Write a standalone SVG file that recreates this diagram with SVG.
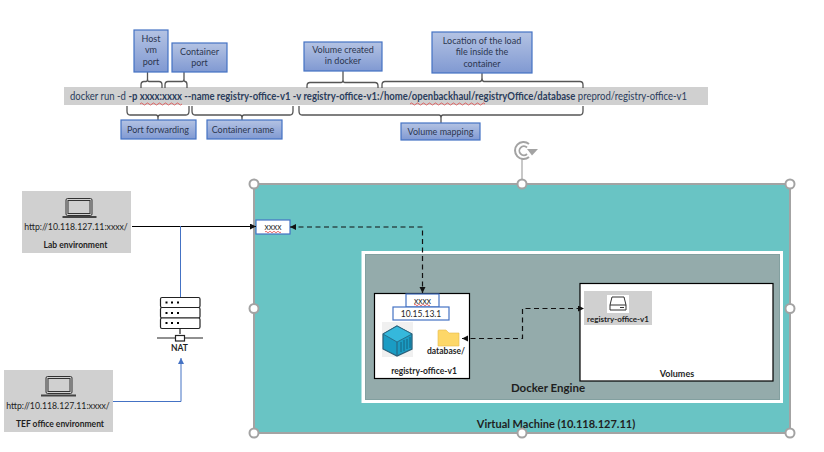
<svg xmlns="http://www.w3.org/2000/svg" width="824" height="452" viewBox="0 0 824 452">
<defs>
<linearGradient id="blueGrad" x1="0" y1="0" x2="0" y2="1"><stop offset="0" stop-color="#b4c3e3"/><stop offset="1" stop-color="#8099d2"/></linearGradient>
<marker id="ah" markerWidth="7" markerHeight="7" refX="6" refY="3" orient="auto-start-reverse" markerUnits="userSpaceOnUse"><path d="M0 0L6 3L0 6Z" fill="#111"/></marker>
<marker id="ahb" markerWidth="7" markerHeight="7" refX="6" refY="3" orient="auto" markerUnits="userSpaceOnUse"><path d="M0 0L6 3L0 6Z" fill="#4472c4"/></marker>
</defs>
<style>
text{font-family:Lato,"Liberation Sans",sans-serif;text-anchor:middle;fill:#1f1f1f}
.call{fill:url(#blueGrad);stroke:#4472c4;stroke-width:1.2}
.ct{font-size:9px;fill:#2c3650}
.brace{fill:none;stroke:#555;stroke-width:1.3}
.grey{fill:#d0d0d0}
.cmd{font-size:10.500px;fill:#2b3d5c;text-anchor:start}
.b{font-weight:700}
.small{font-size:8.500px;font-weight:700}
.url{font-size:8.700px;fill:#222}
.handle{fill:#fff;stroke:#a3a3a3;stroke-width:2}
.dash{fill:none;stroke:#111;stroke-width:1.2;stroke-dasharray:5 3.500}
.sq{fill:none;stroke:#e03030;stroke-width:.7}
.port{fill:#fff;stroke:#4472c4;stroke-width:1.2}
.ico{fill:none;stroke:#333;stroke-width:1}
.srv{fill:#fff;stroke:#222;stroke-width:1.2}
.lap{fill:none;stroke:#333;stroke-width:1}
</style>

<g id="command">
<rect class="grey" x="64" y="87" width="644" height="18"/>
<text class="cmd" x="70" y="100" textLength="617" lengthAdjust="spacingAndGlyphs">docker run -d <tspan class="b">-p xxxx:xxxx --name registry-office-v1 -v registry-office-v1:/home/openbackhaul/registryOffice/database</tspan> preprod/registry-office-v1</text>
<path class="sq" d="M140 104q1.500-2 3 0t3 0t3 0t3 0t3 0t3 0t3 0t3 0t3 0t3 0t3 0t3 0t3 0t3 0"/>
<path class="sq" d="M410 104q1.500-2 3 0t3 0t3 0t3 0t3 0t3 0t3 0t3 0t3 0t3 0t3 0t3 0t3 0t3 0t3 0t3 0t3 0t3 0t3 0t3 0t3 0t3 0t3 0t3 0t3 0"/>
</g>

<g id="braces">
<path class="brace" d="M141 88V85Q141 81.500 144 81.500H146Q147.500 81.500 147.500 79V72M147.500 79Q147.500 81.500 149 81.500H159Q162 81.500 162 85V88"/>
<path class="brace" d="M165 88V85Q165 81.500 168 81.500H182Q184 81.500 184 79V72M184 79Q184 81.500 185 81.500Q187 81.500 187 85V88"/>
<path class="brace" d="M307 88V86Q307 82.500 310 82.500H341Q343 82.500 343 80V71M343 80Q343 82.500 345 82.500H375Q378 82.500 378 86V88"/>
<path class="brace" d="M382 88V85Q382 81.500 385 81.500H480Q482 81.500 482 78V73M482 78Q482 81.500 484 81.500H580Q583 81.500 583 85V88"/>
<path class="brace" d="M127 106V111Q127 115 130 115H156Q158 115 158 118V120M158 118Q158 115 160 115H186Q189 115 189 111V106"/>
<path class="brace" d="M192 106V111Q192 115 195 115H240Q242 115 242 118V120M242 118Q242 115 244 115H290Q293 115 293 111V106"/>
<path class="brace" d="M299 106V111Q299 115 302 115H439Q441 115 441 118V123M441 118Q441 115 443 115H580Q583 115 583 111V106"/>
</g>

<g id="host-port"><rect class="call" x="134" y="30" width="34" height="42"/><text class="ct" x="151" y="42">Host</text><text class="ct" x="151" y="53">vm</text><text class="ct" x="151" y="65">port</text></g>
<g id="container-port"><rect class="call" x="172" y="43" width="55" height="29"/><text class="ct" x="199.500" y="55">Container</text><text class="ct" x="199.500" y="66">port</text></g>
<g id="volume-created"><rect class="call" x="304" y="42" width="78" height="29"/><text class="ct" x="343" y="53">Volume created</text><text class="ct" x="343" y="64">in docker</text></g>
<g id="load-location"><rect class="call" x="432" y="32" width="100" height="41"/><text class="ct" x="482" y="44">Location of the load</text><text class="ct" x="482" y="55">file inside the</text><text class="ct" x="482" y="67">container</text></g>
<g id="port-forwarding"><rect class="call" x="121" y="120" width="75" height="19"/><text class="ct" x="158" y="133">Port forwarding</text></g>
<g id="container-name"><rect class="call" x="207" y="120" width="75" height="19"/><text class="ct" x="243" y="133">Container name</text></g>
<g id="volume-mapping"><rect class="call" x="401" y="123" width="79" height="17"/><text class="ct" x="440.500" y="135">Volume mapping</text></g>

<g id="virtual-machine">
<rect x="254" y="184" width="536" height="249" fill="#69c4c4" stroke="#a3a3a3" stroke-width="2"/>
<text x="556" y="428" font-size="11" font-weight="700">Virtual Machine (10.118.127.11)</text>
</g>

<g id="docker-engine">
<rect x="361.500" y="251" width="421.500" height="152" fill="#fff"/>
<rect x="365" y="254" width="415" height="146" fill="#94abab"/>
<rect x="365.500" y="254.500" width="414" height="145" fill="none" stroke="#83a0a0" stroke-width="1"/>
<text x="548" y="392" font-size="11.500" font-weight="700" fill="#222">Docker Engine</text>
</g>

<g id="vm-port"><rect class="port" x="256" y="220" width="34" height="14"/><text x="273" y="230" font-size="8.500">xxxx</text><path class="sq" d="M265 232q1-1.500 2 0t2 0t2 0t2 0t2 0t2 0t2 0t2 0"/></g>

<g id="container">
<rect x="374.500" y="293.500" width="95" height="85" fill="#fff" stroke="#000" stroke-width="1.200"/>
<rect class="port" x="406" y="294" width="33" height="13"/><text x="422.500" y="304" font-size="8.500">xxxx</text><path class="sq" d="M414 305q1-1.500 2 0t2 0t2 0t2 0t2 0t2 0t2 0t2 0"/>
<rect class="port" x="393" y="307" width="56" height="13"/><text x="421" y="317" font-size="8.500">10.15.13.1</text>
<rect x="382" y="322" width="31" height="35" fill="#f0f0f0"/>
<path d="M397 326L412 334V349L397 356L383 349V334Z" fill="#1a9cc4" stroke="#2a5f78" stroke-width="1.200"/>
<path d="M397 326L412 334L397 342L383 334Z" fill="#35b8dc" stroke="#2a5f78" stroke-width=".8"/>
<path d="M397 342V356" stroke="#2a5f78" fill="none"/>
<path d="M401 342V352M404 340V351M407 339V349M410 337V348" stroke="#145f7c" stroke-width=".9" fill="none"/>
<path d="M438 346V331Q438 330 439 330H446L449 333H459V346Z" fill="#fdd768" stroke="#e6b84a" stroke-width=".6"/>
<text x="446" y="354" class="small">database/</text>
<text x="424" y="374" class="small">registry-office-v1</text>
</g>

<g id="volumes">
<rect x="580" y="283.500" width="193" height="97.500" fill="#fff" stroke="#000" stroke-width="1.200"/>
<text x="677" y="377" font-size="9" font-weight="700">Volumes</text>
<rect class="grey" x="584" y="291" width="68" height="34"/>
<rect x="607" y="295" width="22" height="18" fill="#fff"/>
<path class="ico" d="M610 305L612 297H624L626 305V310H610ZM610 305H626M620 307.500H624"/>
<text x="618" y="322" font-size="8" font-weight="700">registry-office-v1</text>
</g>

<g id="connectors">
<path d="M132 226.500H256" fill="none" stroke="#000" stroke-width="1.200" marker-end="url(#ah)"/>
<path d="M180.500 226V298" fill="none" stroke="#4472c4" stroke-width="1"/>
<path d="M113 401.500H181V358" fill="none" stroke="#4472c4" stroke-width="1" marker-end="url(#ahb)"/>
<path class="dash" d="M290 227H422.500V293" marker-start="url(#ah)" marker-end="url(#ah)"/>
<path class="dash" d="M462 338.500H522.500V308.500H584" marker-start="url(#ah)" marker-end="url(#ah)"/>
</g>

<g id="lab-environment">
<rect class="grey" x="22" y="191" width="109" height="62"/>
<rect x="66" y="198.500" width="26" height="17" rx="1.500" class="lap"/>
<rect x="68" y="200.500" width="22" height="13" class="lap" stroke-width=".7"/>
<path d="M62.500 217H96.500" stroke="#444" stroke-width="2"/>
<text class="url" x="76" y="230">http://10.118.127.11:xxxx/</text>
<text class="small" x="75.500" y="248">Lab environment</text>
</g>

<g id="nat">
<rect class="srv" x="160.500" y="297.500" width="39.500" height="10" rx="1.500"/>
<rect class="srv" x="160.500" y="307.500" width="39.500" height="10.500" rx="1.500"/>
<rect class="srv" x="160.500" y="318" width="39.500" height="10.500" rx="1.500"/>
<path d="M165.500 302.500h2M171 302.500h2M177 302.500h2M165.500 313h2M171 313h2M177 313h2M165.500 323h2M171 323h2M177 323h2" stroke="#000" stroke-width="2"/>
<path d="M180 329V334M157 338H203" stroke="#222" stroke-width="1.200"/>
<rect class="srv" x="175.500" y="335.500" width="9" height="5.500"/>
<text class="small" x="179.500" y="351" font-size="9">NAT</text>
</g>

<g id="tef-office-environment">
<rect class="grey" x="4" y="370" width="109" height="62"/>
<rect x="46" y="376.500" width="26" height="17" rx="1.500" class="lap"/>
<rect x="48" y="378.500" width="22" height="13" class="lap" stroke-width=".7"/>
<path d="M41 395.500H76" stroke="#444" stroke-width="2"/>
<text class="url" x="58" y="409">http://10.118.127.11:xxxx/</text>
<text class="small" x="60" y="427">TEF office environment</text>
</g>

<g id="selection-handles">
<path d="M522 159V184" stroke="#a3a3a3" stroke-width="1.200"/>
<path d="M529 144A8.500 8.500 0 1 0 529 157" fill="none" stroke="#a3a3a3" stroke-width="2"/>
<path d="M527 147.500A4.500 4.500 0 1 0 527 154" fill="none" stroke="#a3a3a3" stroke-width="1.800"/>
<path d="M527 149H538L532 155.500Z" fill="#a3a3a3"/>
<circle class="handle" cx="254" cy="184" r="4.500"/><circle class="handle" cx="522" cy="184" r="4.500"/><circle class="handle" cx="790" cy="184" r="4.500"/>
<circle class="handle" cx="254" cy="308.500" r="4.500"/><circle class="handle" cx="790" cy="308.500" r="4.500"/>
<circle class="handle" cx="254" cy="433" r="4.500"/><circle class="handle" cx="522" cy="433" r="4.500"/><circle class="handle" cx="790" cy="433" r="4.500"/>
</g>
</svg>
